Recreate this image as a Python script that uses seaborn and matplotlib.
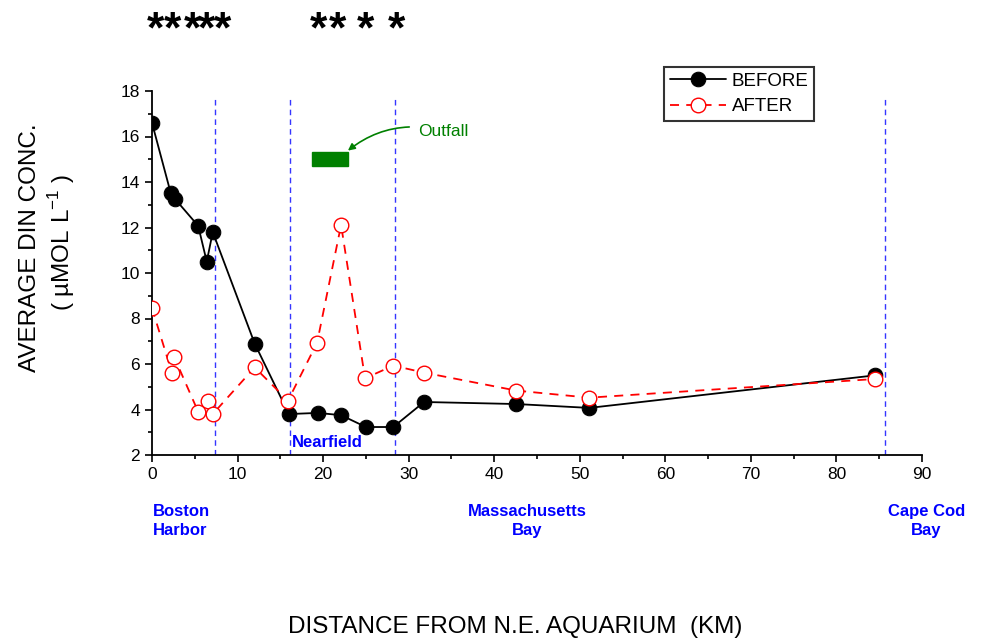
import numpy as np
import pandas as pd
import matplotlib.pyplot as plt
from matplotlib.patches import Rectangle
from matplotlib.ticker import MultipleLocator
import seaborn as sns

# Stations (km from N.E. Aquarium) and average DIN (umol/L)
before_km = [0.0, 2.2, 2.7, 5.4, 6.4, 7.1, 12.0, 16.0, 19.4, 22.1, 25.0, 28.2, 31.8, 42.6, 51.1, 84.5]
before_din = [16.6, 13.5, 13.25, 12.07, 10.5, 11.8, 6.9, 3.8, 3.85, 3.75, 3.23, 3.23, 4.33, 4.24, 4.07, 5.5]

after_km = [0.0, 2.34, 2.6, 5.4, 6.5, 7.1, 12.0, 15.9, 19.3, 22.1, 24.9, 28.2, 31.8, 42.6, 51.1, 84.5]
after_din = [8.46, 5.6, 6.3, 3.9, 4.39, 3.8, 5.85, 4.39, 6.94, 12.11, 5.37, 5.93, 5.62, 4.83, 4.52, 5.34]

# region boundaries and labels
boundaries_km = [7.36, 16.1, 28.4, 85.7]
regions = ['Boston\nHarbor', 'Massachusetts\nBay', 'Cape Cod\nBay']
region_x = [0.1, 43.9, 90.5]

# significance stars
star_km = [0.35, 2.45, 4.7, 6.4, 8.2, 19.4, 21.7, 24.9, 28.6]

# outfall marker
outfall_x = (18.7, 22.9)
outfall_y = (14.7, 15.32)

df_before = pd.DataFrame({'km': before_km, 'din': before_din})
df_after = pd.DataFrame({'km': after_km, 'din': after_din})

sns.set_style('ticks')
plt.rcParams['font.family'] = ['Liberation Sans', 'DejaVu Sans']
plt.rcParams['mathtext.fontset'] = 'custom'
plt.rcParams['mathtext.rm'] = 'Liberation Sans'
for key in ['text.color', 'axes.labelcolor', 'xtick.color', 'ytick.color', 'axes.edgecolor']:
    plt.rcParams[key] = 'black'

fig = plt.figure(figsize=(9.82, 6.4), dpi=100)
ax = fig.add_axes([152 / 982, 185 / 640, 770 / 982, 364 / 640])

for xb in boundaries_km:
    ax.axvline(xb, ymin=0, ymax=0.983, color='#3535ff', lw=1.0, ls=(0, (4, 3)), zorder=1)

sns.lineplot(data=df_before, x='km', y='din', ax=ax, color='black', lw=1.3,
             marker='o', markersize=10.5, markerfacecolor='black', markeredgecolor='black',
             label='BEFORE', estimator=None, zorder=3)
sns.lineplot(data=df_after, x='km', y='din', ax=ax, color='red', lw=1.3,
             dashes=False, ls=(0, (5, 4)),
             marker='o', markersize=10.5, markerfacecolor='white', markeredgecolor='red',
             markeredgewidth=1.0, label='AFTER', estimator=None, zorder=4)

ax.set_xlim(0, 90)
ax.set_ylim(2, 18)
ax.xaxis.set_major_locator(MultipleLocator(10))
ax.xaxis.set_minor_locator(MultipleLocator(5))
ax.yaxis.set_major_locator(MultipleLocator(2))
ax.yaxis.set_minor_locator(MultipleLocator(1))
ax.tick_params(which='major', length=5, width=1.2, labelsize=12.5, direction='out')
ax.tick_params(which='minor', length=3, width=1.2, direction='out')
sns.despine(ax=ax)
for s in ['left', 'bottom']:
    ax.spines[s].set_linewidth(1.3)
ax.set_xlabel('')
ax.set_ylabel('')

# outfall
ax.add_patch(Rectangle((outfall_x[0], outfall_y[0]), outfall_x[1] - outfall_x[0],
                       outfall_y[1] - outfall_y[0], color='green', zorder=5))
ax.annotate('Outfall', xy=(outfall_x[1], 15.38), xytext=(31.1, 16.24),
            color='green', fontsize=12.5, va='center', ha='left',
            arrowprops=dict(arrowstyle='-|>', color='green', lw=1.2,
                            connectionstyle='arc3,rad=0.25', shrinkA=4, shrinkB=0,
                            mutation_scale=10))

# region labels
ax.text(20.5, 2.57, 'Nearfield', color='blue', fontsize=12, fontweight='bold',
        ha='center', va='center')
ax.text(region_x[0], -0.181, regions[0], transform=ax.get_xaxis_transform(),
        color='blue', fontsize=12, fontweight='bold', ha='left', va='center',
        linespacing=1.3)
for lab, xr in zip(regions[1:], region_x[1:]):
    ax.text(xr, -0.181, lab, transform=ax.get_xaxis_transform(), color='blue',
            fontsize=12, fontweight='bold', ha='center', va='center',
            linespacing=1.3, clip_on=False)

for xs in star_km:
    ax.text(xs, 1.165, '*', transform=ax.get_xaxis_transform(), fontsize=32,
            fontweight='bold', ha='center', va='center', clip_on=False)

leg = ax.legend(loc='upper left', bbox_to_anchor=(0.665, 1.066), borderaxespad=0,
                fontsize=13.5, frameon=True, fancybox=False, edgecolor='black',
                handlelength=3, borderpad=0.3, labelspacing=0.45, handletextpad=0.3)
leg.get_frame().set_linewidth(1.5)

fig.text(30 / 982, 1 - 248 / 640, 'AVERAGE DIN CONC.', rotation=90, fontsize=17.5,
         ha='center', va='center')
fig.text(62 / 982, 1 - 242 / 640, '( \u00b5MOL L$^{-1}$ )', rotation=90, fontsize=17.5,
         ha='center', va='center')
fig.text(515 / 982, 1 - 627 / 640, 'DISTANCE FROM N.E. AQUARIUM  (KM)', fontsize=17.5,
         ha='center', va='center')

fig.savefig('out.png', dpi=100)
